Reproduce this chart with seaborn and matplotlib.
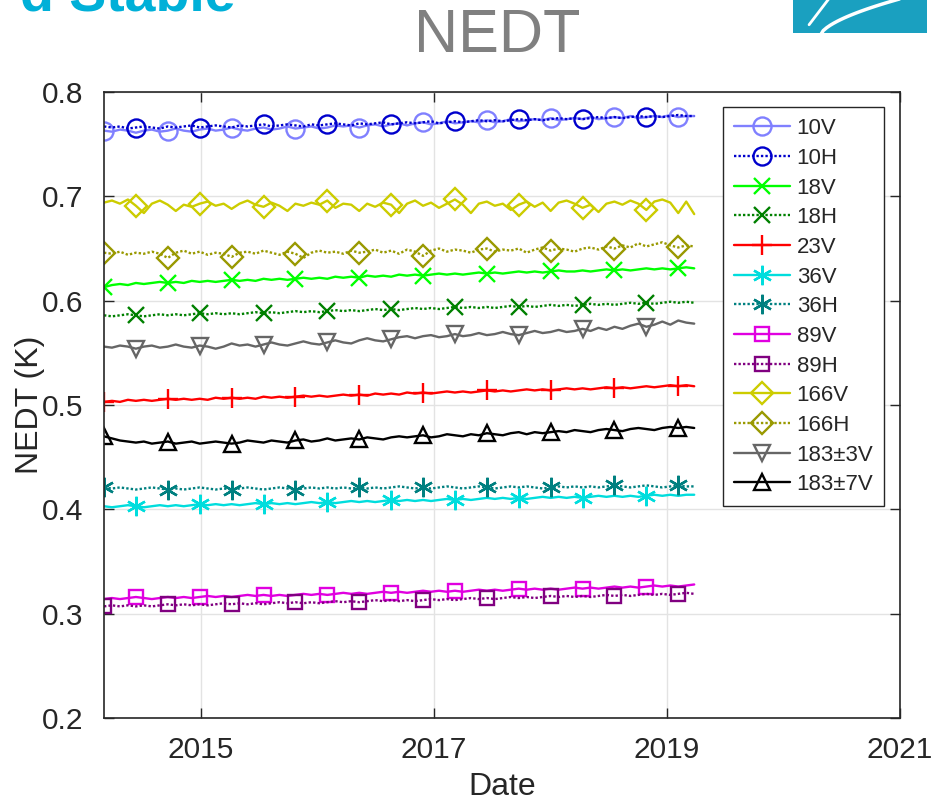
import matplotlib
matplotlib.use("Agg")
import matplotlib.pyplot as plt
from matplotlib.lines import Line2D
import matplotlib.dates as mdates
import numpy as np
import pandas as pd
import seaborn as sns

# sample dates (one sample every 25 days)
dates = pd.date_range("2014-03-04", periods=75, freq="25D")
year_ticks = pd.to_datetime(["2015-01-01", "2017-01-01", "2019-01-01", "2021-01-01"])

channels = ["10V", "10H", "18V", "18H", "23V", "36V", "36H",
            "89V", "89H", "166V", "166H", "183\u00b13V", "183\u00b17V"]

nedt_10v = [0.763, 0.762, 0.764, 0.763, 0.761, 0.763, 0.764, 0.762, 0.763, 0.765, 0.763, 0.762, 0.764, 0.765, 0.763,
            0.764, 0.766, 0.764, 0.763, 0.765, 0.766, 0.764, 0.765, 0.767, 0.765, 0.766, 0.767, 0.765, 0.766, 0.768,
            0.767, 0.768, 0.766, 0.768, 0.769, 0.767, 0.769, 0.770, 0.768, 0.770, 0.771, 0.769, 0.770, 0.772, 0.770,
            0.771, 0.772, 0.771, 0.773, 0.771, 0.772, 0.774, 0.772, 0.773, 0.774, 0.773, 0.775, 0.773, 0.774, 0.775,
            0.774, 0.776, 0.774, 0.775, 0.776, 0.775, 0.777, 0.775, 0.776, 0.777, 0.776, 0.778, 0.776, 0.777, 0.777]
nedt_10h = [0.767, 0.766, 0.767, 0.765, 0.766, 0.767, 0.766, 0.765, 0.767, 0.766, 0.767, 0.768, 0.766, 0.767, 0.768,
            0.767, 0.766, 0.768, 0.767, 0.768, 0.769, 0.767, 0.768, 0.769, 0.768, 0.767, 0.769, 0.768, 0.769, 0.770,
            0.769, 0.768, 0.770, 0.769, 0.770, 0.771, 0.769, 0.770, 0.771, 0.770, 0.771, 0.772, 0.770, 0.771, 0.772,
            0.771, 0.772, 0.773, 0.772, 0.773, 0.772, 0.773, 0.774, 0.773, 0.774, 0.773, 0.774, 0.775, 0.774, 0.775,
            0.774, 0.775, 0.776, 0.775, 0.776, 0.775, 0.776, 0.777, 0.776, 0.777, 0.776, 0.777, 0.778, 0.777, 0.777]
nedt_18v = [0.613, 0.615, 0.616, 0.615, 0.617, 0.616, 0.617, 0.618, 0.617, 0.618, 0.617, 0.619, 0.618, 0.619, 0.618,
            0.619, 0.620, 0.619, 0.620, 0.619, 0.621, 0.620, 0.621, 0.620, 0.621, 0.622, 0.621, 0.622, 0.621, 0.623,
            0.622, 0.623, 0.622, 0.624, 0.623, 0.624, 0.623, 0.625, 0.624, 0.625, 0.624, 0.625, 0.626, 0.625, 0.626,
            0.625, 0.626, 0.627, 0.626, 0.627, 0.626, 0.627, 0.628, 0.627, 0.628, 0.627, 0.628, 0.629, 0.628, 0.628,
            0.629, 0.628, 0.629, 0.630, 0.629, 0.630, 0.629, 0.630, 0.631, 0.630, 0.631, 0.630, 0.631, 0.632, 0.631]
nedt_18h = [0.586, 0.585, 0.586, 0.587, 0.586, 0.585, 0.586, 0.587, 0.586, 0.587, 0.586, 0.587, 0.588, 0.587, 0.588,
            0.587, 0.588, 0.587, 0.588, 0.589, 0.588, 0.589, 0.588, 0.589, 0.590, 0.589, 0.590, 0.589, 0.590, 0.591,
            0.590, 0.591, 0.590, 0.591, 0.592, 0.591, 0.592, 0.591, 0.592, 0.593, 0.592, 0.593, 0.592, 0.593, 0.594,
            0.593, 0.594, 0.593, 0.594, 0.593, 0.594, 0.595, 0.594, 0.595, 0.594, 0.595, 0.596, 0.595, 0.596, 0.595,
            0.596, 0.597, 0.596, 0.597, 0.596, 0.597, 0.598, 0.597, 0.598, 0.597, 0.598, 0.599, 0.598, 0.599, 0.598]
nedt_23v = [0.503, 0.504, 0.503, 0.505, 0.504, 0.505, 0.504, 0.505, 0.506, 0.505, 0.506, 0.505, 0.506, 0.505, 0.507,
            0.506, 0.507, 0.506, 0.507, 0.506, 0.508, 0.507, 0.508, 0.507, 0.508, 0.509, 0.508, 0.509, 0.508, 0.509,
            0.510, 0.509, 0.510, 0.509, 0.511, 0.510, 0.511, 0.510, 0.512, 0.511, 0.512, 0.511, 0.512, 0.513, 0.512,
            0.513, 0.512, 0.513, 0.514, 0.513, 0.514, 0.513, 0.514, 0.515, 0.514, 0.515, 0.514, 0.515, 0.516, 0.515,
            0.516, 0.515, 0.516, 0.517, 0.516, 0.517, 0.516, 0.517, 0.518, 0.517, 0.518, 0.519, 0.518, 0.519, 0.518]
nedt_36v = [0.403, 0.402, 0.403, 0.404, 0.403, 0.402, 0.403, 0.404, 0.403, 0.404, 0.403, 0.404, 0.405, 0.404, 0.405,
            0.404, 0.405, 0.404, 0.405, 0.406, 0.405, 0.406, 0.405, 0.406, 0.405, 0.406, 0.407, 0.406, 0.407, 0.406,
            0.407, 0.408, 0.407, 0.408, 0.407, 0.408, 0.409, 0.408, 0.409, 0.408, 0.409, 0.408, 0.409, 0.410, 0.409,
            0.410, 0.409, 0.410, 0.411, 0.410, 0.411, 0.410, 0.411, 0.410, 0.411, 0.412, 0.411, 0.412, 0.411, 0.412,
            0.411, 0.412, 0.413, 0.412, 0.413, 0.412, 0.413, 0.412, 0.413, 0.414, 0.413, 0.414, 0.413, 0.414, 0.414]
nedt_36h = [0.421, 0.420, 0.421, 0.420, 0.419, 0.420, 0.421, 0.420, 0.419, 0.420, 0.419, 0.420, 0.421, 0.420, 0.419,
            0.420, 0.419, 0.420, 0.421, 0.420, 0.419, 0.420, 0.421, 0.420, 0.419, 0.420, 0.421, 0.420, 0.421, 0.420,
            0.421, 0.420, 0.421, 0.420, 0.421, 0.420, 0.421, 0.422, 0.421, 0.420, 0.421, 0.420, 0.421, 0.422, 0.421,
            0.420, 0.421, 0.422, 0.421, 0.420, 0.421, 0.422, 0.421, 0.422, 0.421, 0.420, 0.421, 0.422, 0.421, 0.422,
            0.421, 0.422, 0.421, 0.422, 0.423, 0.422, 0.421, 0.422, 0.423, 0.422, 0.421, 0.422, 0.423, 0.422, 0.422]
nedt_89v = [0.314, 0.315, 0.314, 0.315, 0.316, 0.315, 0.314, 0.315, 0.316, 0.315, 0.316, 0.315, 0.316, 0.317, 0.316,
            0.317, 0.316, 0.317, 0.318, 0.317, 0.318, 0.317, 0.318, 0.317, 0.318, 0.319, 0.318, 0.319, 0.318, 0.319,
            0.320, 0.319, 0.320, 0.319, 0.320, 0.321, 0.320, 0.321, 0.320, 0.321, 0.322, 0.321, 0.322, 0.321, 0.322,
            0.321, 0.322, 0.323, 0.322, 0.323, 0.322, 0.323, 0.324, 0.323, 0.324, 0.323, 0.324, 0.323, 0.324, 0.325,
            0.324, 0.325, 0.324, 0.325, 0.326, 0.325, 0.326, 0.325, 0.326, 0.327, 0.326, 0.327, 0.326, 0.327, 0.328]
nedt_89h = [0.307, 0.308, 0.307, 0.308, 0.307, 0.308, 0.307, 0.308, 0.309, 0.308, 0.309, 0.308, 0.309, 0.308, 0.309,
            0.310, 0.309, 0.310, 0.309, 0.310, 0.309, 0.310, 0.311, 0.310, 0.311, 0.310, 0.311, 0.310, 0.311, 0.312,
            0.311, 0.312, 0.311, 0.312, 0.313, 0.312, 0.313, 0.312, 0.313, 0.312, 0.313, 0.314, 0.313, 0.314, 0.313,
            0.314, 0.315, 0.314, 0.315, 0.314, 0.315, 0.316, 0.315, 0.316, 0.315, 0.316, 0.317, 0.316, 0.317, 0.316,
            0.317, 0.316, 0.317, 0.318, 0.317, 0.318, 0.317, 0.318, 0.319, 0.318, 0.319, 0.318, 0.319, 0.320, 0.319]
nedt_166v = [0.694, 0.696, 0.693, 0.697, 0.691, 0.684, 0.693, 0.696, 0.692, 0.686, 0.692, 0.690, 0.693, 0.695, 0.691,
             0.693, 0.688, 0.693, 0.696, 0.692, 0.690, 0.694, 0.691, 0.686, 0.693, 0.691, 0.694, 0.692, 0.696, 0.689,
             0.693, 0.692, 0.686, 0.693, 0.690, 0.694, 0.692, 0.684, 0.693, 0.696, 0.691, 0.694, 0.689, 0.693, 0.697,
             0.692, 0.684, 0.693, 0.695, 0.691, 0.693, 0.687, 0.692, 0.695, 0.690, 0.694, 0.686, 0.694, 0.696, 0.693,
             0.689, 0.692, 0.685, 0.693, 0.695, 0.692, 0.696, 0.693, 0.687, 0.695, 0.697, 0.694, 0.684, 0.695, 0.683]
nedt_166h = [0.646, 0.645, 0.647, 0.644, 0.646, 0.645, 0.647, 0.645, 0.641, 0.646, 0.648, 0.645, 0.647, 0.644, 0.646,
             0.645, 0.642, 0.646, 0.647, 0.645, 0.648, 0.646, 0.644, 0.647, 0.645, 0.641, 0.646, 0.648, 0.646, 0.647,
             0.645, 0.648, 0.646, 0.647, 0.649, 0.646, 0.648, 0.645, 0.649, 0.647, 0.643, 0.648, 0.650, 0.647, 0.649,
             0.648, 0.646, 0.649, 0.650, 0.647, 0.649, 0.648, 0.650, 0.646, 0.649, 0.651, 0.648, 0.650, 0.649, 0.647,
             0.650, 0.651, 0.649, 0.652, 0.650, 0.653, 0.651, 0.655, 0.652, 0.654, 0.656, 0.653, 0.651, 0.653, 0.652]
nedt_183_3v = [0.556, 0.555, 0.557, 0.556, 0.554, 0.556, 0.557, 0.555, 0.556, 0.558, 0.556, 0.555, 0.557, 0.556, 0.554,
               0.556, 0.559, 0.557, 0.558, 0.556, 0.558, 0.560, 0.558, 0.557, 0.559, 0.561, 0.559, 0.558, 0.560, 0.562,
               0.560, 0.559, 0.562, 0.564, 0.562, 0.561, 0.563, 0.565, 0.566, 0.564, 0.566, 0.567, 0.565, 0.566, 0.568,
               0.566, 0.567, 0.569, 0.567, 0.568, 0.570, 0.568, 0.567, 0.569, 0.571, 0.569, 0.570, 0.572, 0.570, 0.571,
               0.573, 0.571, 0.574, 0.572, 0.575, 0.573, 0.576, 0.578, 0.575, 0.577, 0.580, 0.577, 0.581, 0.579, 0.578]
nedt_183_7v = [0.470, 0.468, 0.466, 0.465, 0.464, 0.465, 0.463, 0.464, 0.465, 0.463, 0.464, 0.465, 0.463, 0.464, 0.465,
               0.464, 0.463, 0.464, 0.466, 0.465, 0.464, 0.466, 0.465, 0.464, 0.466, 0.467, 0.465, 0.466, 0.468, 0.466,
               0.467, 0.468, 0.467, 0.469, 0.468, 0.467, 0.469, 0.470, 0.469, 0.470, 0.471, 0.469, 0.470, 0.472, 0.471,
               0.470, 0.472, 0.471, 0.473, 0.472, 0.471, 0.473, 0.474, 0.472, 0.474, 0.473, 0.474, 0.475, 0.474, 0.476,
               0.475, 0.474, 0.476, 0.477, 0.476, 0.475, 0.477, 0.478, 0.477, 0.476, 0.478, 0.479, 0.478, 0.479, 0.478]

series = [nedt_10v, nedt_10h, nedt_18v, nedt_18h, nedt_23v, nedt_36v, nedt_36h,
          nedt_89v, nedt_89h, nedt_166v, nedt_166h, nedt_183_3v, nedt_183_7v]

# MATLAB-like asterisk (6 arms)
ASTER = (6, 2, 0)
DOTTED = (0, (1, 0.9))

# style per channel: colour, line style, marker, marker size, marker phase
styles = {
    "10V":  ("#8080ff", "-", "o", 13, 0),
    "10H":  ("#0000cc", DOTTED, "o", 13, 4),
    "18V":  ("#00ff00", "-", "x", 11, 0),
    "18H":  ("#008000", DOTTED, "x", 11, 4),
    "23V":  ("#ff0000", "-", "+", 15, 0),
    "36V":  ("#00dddd", "-", ASTER, 14, 4),
    "36H":  ("#008080", DOTTED, ASTER, 14, 0),
    "89V":  ("#e000e0", "-", "s", 10, 4),
    "89H":  ("#800080", DOTTED, "s", 10, 0),
    "166V": ("#cccc00", "-", "D", 11, 4),
    "166H": ("#999900", DOTTED, "D", 11, 0),
    "183\u00b13V": ("#666666", "-", "v", 12, 4),
    "183\u00b17V": ("#000000", "-", "^", 12, 0),
}

sns.set_theme(style="ticks")
plt.rcParams["font.family"] = ["Liberation Sans", "DejaVu Sans"]
ink = "#262626"

fig = plt.figure(figsize=(9.42, 8.01), dpi=100)
ax = fig.add_axes([0.1104, 0.1036, 0.8450, 0.7815])

handles = []
for name, vals in zip(channels, series):
    color, ls, mk, ms, phase = styles[name]
    sns.lineplot(x=dates, y=vals, ax=ax, color=color, linestyle=ls, linewidth=1.7,
                 marker=mk, markersize=ms, markevery=slice(phase, None, 8),
                 markerfacecolor="none", markeredgecolor=color, markeredgewidth=1.7,
                 errorbar=None, sort=False, legend=False)
    handles.append(Line2D([], [], color=color, linestyle=ls, linewidth=1.7, marker=mk,
                          markersize=ms, markerfacecolor="none", markeredgecolor=color,
                          markeredgewidth=1.7, label=name))

ax.set_xlim(dates[0], year_ticks[-1])
ax.set_ylim(0.2, 0.8)
ax.set_yticks([0.2, 0.3, 0.4, 0.5, 0.6, 0.7, 0.8])
ax.set_yticklabels(["0.2", "0.3", "0.4", "0.5", "0.6", "0.7", "0.8"])
ax.set_xticks(year_ticks)
ax.xaxis.set_major_formatter(mdates.DateFormatter("%Y"))

ax.grid(True, color="#e3e3e3", linewidth=1.0)
ax.set_axisbelow(True)
for sp in ax.spines.values():
    sp.set_visible(True)
    sp.set_color(ink)
    sp.set_linewidth(1.2)
ax.tick_params(direction="in", length=7, width=1.0, colors=ink, labelsize=21.5,
               top=True, right=True)
ax.tick_params(axis="y", pad=15)
ax.tick_params(axis="x", pad=13)

ax.set_xlabel("Date", fontsize=23, color=ink)
ax.set_ylabel("NEDT (K)", fontsize=23, color=ink)
ax.xaxis.set_label_coords(0.5, -0.086)
ax.yaxis.set_label_coords(-0.074, 0.5)

leg = ax.legend(handles=handles, loc="upper left", bbox_to_anchor=(0.778, 0.976),
                fontsize=16, frameon=True, fancybox=False, framealpha=1,
                edgecolor=ink, handlelength=2.5, handletextpad=0.3,
                labelspacing=0.39, borderpad=0.5, borderaxespad=0)
leg.get_frame().set_linewidth(1.0)

# slide decorations around the chart
fig.text(0.528, 0.935, "NEDT", fontsize=44, color="#808080", ha="center", va="baseline")
fig.text(0.25, 0.9875, "d Stable", fontsize=40, fontweight="bold", color="#00b0d8",
         ha="right", va="baseline")
logo = fig.add_axes([0.8418, 0.9588, 0.1423, 0.0412])
logo.set_facecolor("#1aa0c0")
logo.set_xticks([])
logo.set_yticks([])
logo.set_xlim(0, 1)
logo.set_ylim(0, 1)
for sp in logo.spines.values():
    sp.set_visible(False)
# white swoosh of the logo
t = np.linspace(0, 1, 30)
logo.plot(0.2 + 0.75 * t, -0.1 + 1.3 * t ** 0.6, color="white", linewidth=2.5)
logo.plot(0.12 + 0.15 * t, 0.25 + 0.8 * t, color="white", linewidth=2.0)

fig.savefig("out.png", dpi=100)
